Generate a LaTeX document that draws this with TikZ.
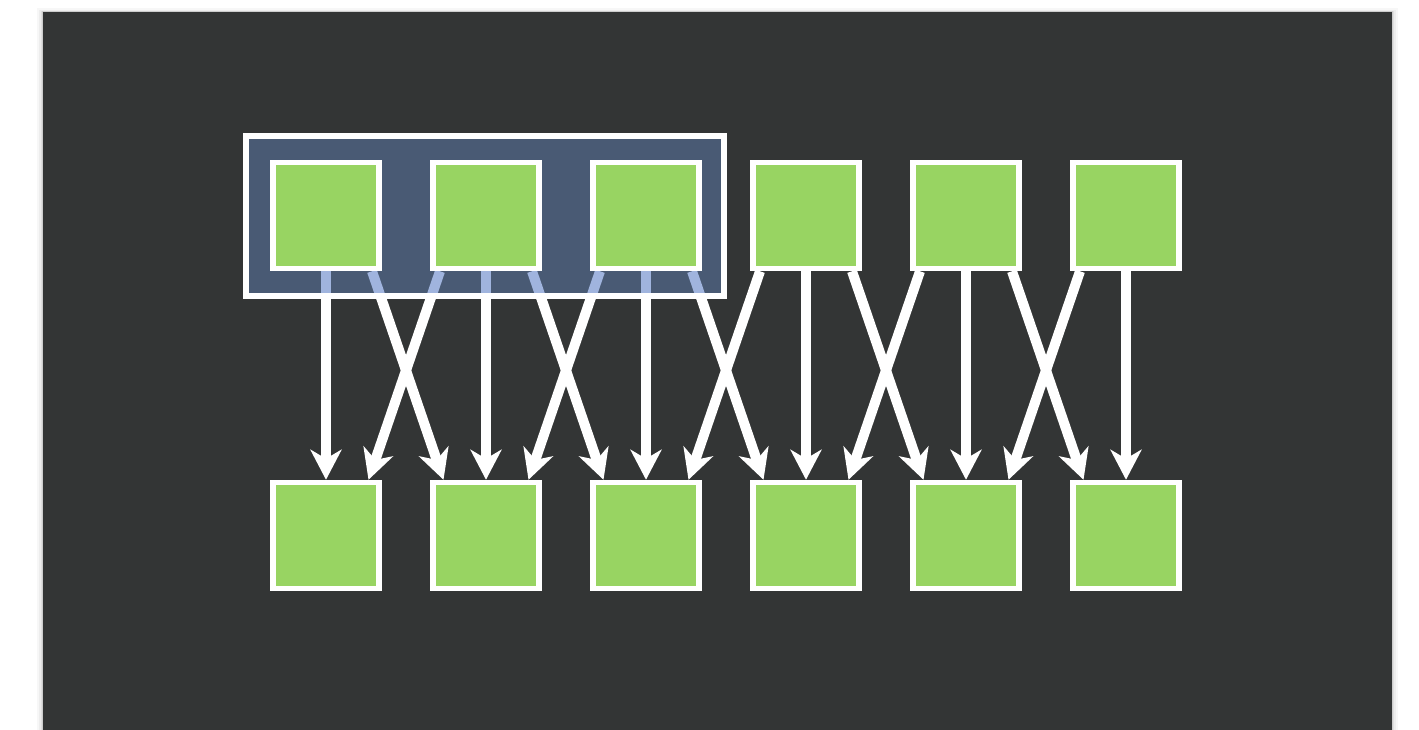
\documentclass[tikz,border=0pt]{standalone}
\usetikzlibrary{arrows.meta}
\definecolor{bgdark}{RGB}{51,53,53}
\definecolor{sqgreen}{RGB}{152,212,98}
\definecolor{grpblue}{RGB}{73,90,116}
\definecolor{lightblue}{RGB}{160,180,222}
\tikzset{
  sq/.style={draw=white, line width=5.5pt, fill=sqgreen, minimum size=106pt, inner sep=0pt},
  grpbox/.style={draw=white, line width=5.5pt, fill=grpblue, minimum width=478pt, minimum height=160pt, inner sep=0pt, outer sep=0pt},
  arr/.style={draw=white, line width=10pt, -{Stealth[length=30pt, width=31pt, inset=9pt]}},
  arrin/.style={draw=lightblue, line width=10pt},
}
\begin{document}
\begin{tikzpicture}[x=1pt, y=-1pt]
\useasboundingbox (0,0) rectangle (1419,730);
\fill[white] (0,0) rectangle (1419,730);
% soft shadow
\foreach \d/\o in {6/0.03,4/0.04,2/0.06,1/0.08}{
  \fill[black, opacity=\o] (43-\d,12-\d*0.6) rectangle (1392+\d,730);
}
\fill[bgdark] (43,12) rectangle (1392,730);
% nodes
\foreach \i in {0,...,5}{
  \node[sq] (b\i) at (326+160*\i,535.5) {};
  \path (326+160*\i,215.5) node[sq, draw=none, fill=none] (t\i) {};
}
% arrows
\foreach \i in {0,...,5}{
  \draw[arr] (t\i.south) -- (b\i.north);
}
\foreach \i/\j in {0/1,1/2,2/3,3/4,4/5}{
  \draw[arr] ([xshift=46pt]t\i.south) -- ([xshift=-42.5pt]b\j.north);
  \draw[arr] ([xshift=-46pt]t\j.south) -- ([xshift=42.5pt]b\i.north);
}
% group box
\node[grpbox] (grp) at (485,216) {};
% arrow parts seen through the box
\begin{scope}
  \clip (grp.south west) rectangle (grp.north east);
  \foreach \i in {0,1,2}{
    \draw[arrin] (t\i.south) -- (b\i.north);
  }
  \foreach \i/\j in {0/1,1/2,2/3}{
    \draw[arrin] ([xshift=46pt]t\i.south) -- ([xshift=-42.5pt]b\j.north);
  }
  \foreach \i/\j in {0/1,1/2}{
    \draw[arrin] ([xshift=-46pt]t\j.south) -- ([xshift=42.5pt]b\i.north);
  }
\end{scope}
% redraw box border on top
\draw[white, line width=5.5pt] (grp.south west) rectangle (grp.north east);
% top squares
\foreach \i in {0,...,5}{
  \node[sq] at (t\i) {};
}
\end{tikzpicture}
\end{document}
